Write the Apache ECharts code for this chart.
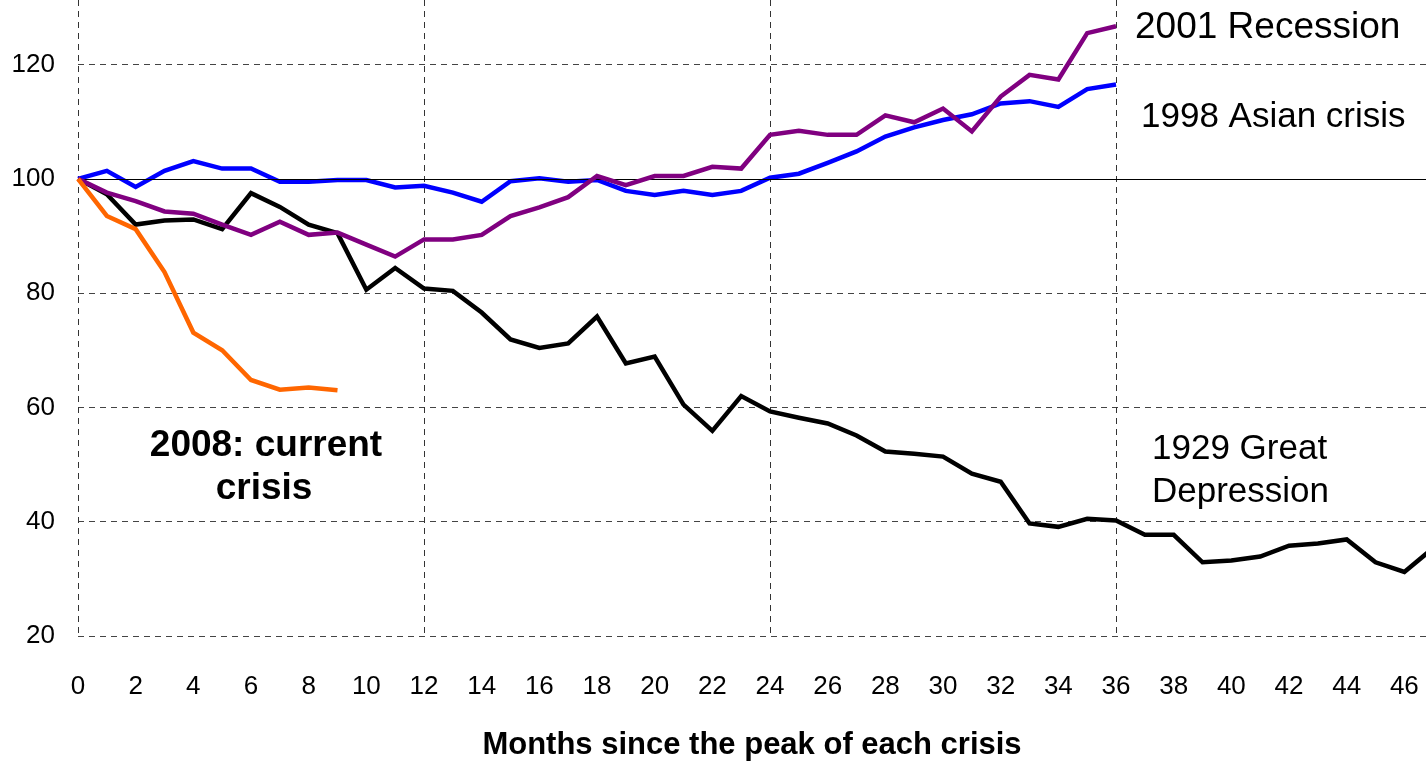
<!DOCTYPE html>
<html>
<head>
<meta charset="utf-8">
<script src="https://cdn.jsdelivr.net/npm/echarts@6/dist/echarts.min.js"></script>
<style>
  html, body { margin: 0; padding: 0; background: #fff; }
  #chart { width: 1426px; height: 766px; }
</style>
</head>
<body>
<div id="chart"></div>
<script>
// months since the peak (0..47)
const months = [0,1,2,3,4,5,6,7,8,9,10,11,12,13,14,15,16,17,18,19,20,21,22,23,
  24,25,26,27,28,29,30,31,32,33,34,35,36,37,38,39,40,41,42,43,44,45,46,47];

// index values, peak = 100
const depression1929 = [100, 97.3, 92.0, 92.7, 92.9, 91.2, 97.5, 95.1, 92.0, 90.5, 80.6, 84.4,
  80.8, 80.4, 76.6, 71.9, 70.4, 71.2, 75.9, 67.7, 68.9, 60.5, 55.9, 62.0,
  59.3, 58.2, 57.2, 55.1, 52.3, 51.9, 51.4, 48.4, 47.0, 39.7, 39.1, 40.5,
  40.2, 37.7, 37.7, 32.9, 33.2, 33.9, 35.8, 36.2, 36.9, 32.9, 31.2, 35.4];
const asian1998 = [100, 101.4, 98.6, 101.4, 103.1, 101.8, 101.8, 99.5, 99.5, 99.8, 99.8, 98.5,
  98.8, 97.6, 96.0, 99.6, 100.1, 99.5, 99.8, 97.9, 97.2, 97.9, 97.2, 97.9,
  100.2, 100.9, 102.8, 104.8, 107.4, 109.0, 110.3, 111.3, 113.2, 113.6, 112.6, 115.7,
  116.5];
const recession2001 = [100, 97.6, 96.1, 94.3, 93.9, 92.0, 90.2, 92.5, 90.2, 90.6, 88.5, 86.4,
  89.4, 89.4, 90.2, 93.5, 95.0, 96.8, 100.5, 98.9, 100.5, 100.5, 102.1, 101.8,
  107.7, 108.4, 107.7, 107.7, 111.1, 109.9, 112.3, 108.3, 114.4, 118.2, 117.4, 125.5,
  126.7];
const current2008 = [100, 93.5, 91.2, 83.7, 73.1, 70.0, 64.8, 63.1, 63.5, 63.0];

const FONT = 'Liberation Sans, Arial, sans-serif';

function pairs(vals) {
  return vals.map((v, i) => [months[i], v]);
}

function lineSeries(name, vals, color, z) {
  return {
    name: name,
    type: 'line',
    data: pairs(vals),
    showSymbol: false,
    symbol: 'none',
    z: z,
    lineStyle: { color: color, width: 4.5, join: 'miter' },
    emphasis: { disabled: true },
    animation: false
  };
}

function label(text, x, y, font, align) {
  return {
    type: 'text',
    style: {
      text: text, x: x, y: y, font: font, fill: '#000',
      textAlign: align, align: align,
      textVerticalAlign: 'middle', verticalAlign: 'middle'
    }
  };
}

const chart = echarts.init(document.getElementById('chart'));

const option = {
  animation: false,
  grid: { left: 78, right: 0, top: 0, bottom: 125 },
  xAxis: [
    {
      type: 'value',
      min: 0,
      max: 46.75,
      interval: 2,
      axisLine: { show: false },
      axisTick: { show: false },
      splitLine: { show: false },
      axisLabel: {
        showMaxLabel: false,
        margin: 38,
        fontSize: 26,
        color: '#000',
        fontFamily: FONT
      },
      name: 'Months since the peak of each crisis',
      nameLocation: 'middle',
      nameGap: 94,
      nameTextStyle: { fontSize: 31, fontWeight: 'bold', color: '#000', fontFamily: FONT }
    },
    {
      // only for the dashed verticals every 12 months
      type: 'value',
      position: 'bottom',
      min: 0,
      max: 46.75,
      interval: 12,
      axisLine: { show: false },
      axisTick: { show: false },
      axisLabel: { show: false },
      splitLine: { show: true, showMaxLine: false, lineStyle: { color: '#333', width: 1, type: [6, 5] } }
    }
  ],
  yAxis: {
    type: 'value',
    min: 20,
    max: 131.3,
    interval: 20,
    axisLine: { show: false },
    axisTick: { show: false },
    axisLabel: {
      showMaxLabel: false,
      margin: 23,
      fontSize: 26,
      color: '#000',
      fontFamily: FONT
    },
    splitLine: { show: true, showMaxLine: false, lineStyle: { color: '#444', width: 1, type: [6, 5] } }
  },
  series: [
    Object.assign(lineSeries('1929 Great Depression', depression1929, '#000000', 3), {
      markLine: {
        silent: true,
        symbol: 'none',
        label: { show: false },
        lineStyle: { color: '#000', width: 1, type: 'solid' },
        data: [{ yAxis: 100 }]
      }
    }),
    lineSeries('1998 Asian crisis', asian1998, '#0000FF', 4),
    lineSeries('2001 Recession', recession2001, '#800080', 5),
    lineSeries('2008: current crisis', current2008, '#FF6600', 6)
  ],
  graphic: [
    label('2001 Recession', 1135, 28, '37px ' + FONT, 'left'),
    label('1998 Asian crisis', 1141, 117, '35px ' + FONT, 'left'),
    label('1929 Great', 1152, 449, '35px ' + FONT, 'left'),
    label('Depression', 1152, 492, '35px ' + FONT, 'left'),
    label('2008: current', 266, 446, 'bold 37px ' + FONT, 'center'),
    label('crisis', 264, 489, 'bold 37px ' + FONT, 'center')
  ]
};

chart.setOption(option);
</script>
</body>
</html>
